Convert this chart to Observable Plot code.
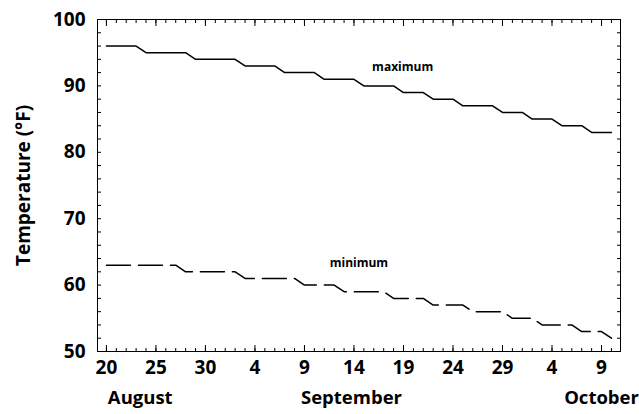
<!DOCTYPE html>
<html><head><meta charset="utf-8">
<script src="https://cdn.jsdelivr.net/npm/d3@7"></script>
<script src="https://cdn.jsdelivr.net/npm/@observablehq/plot@0.6"></script>
<style>
html,body{margin:0;padding:0;background:#fff;}
</style>
</head><body><div id="chart"></div>
<script>
// Daily dates: Aug 20 .. Oct 10
const dates = d3.utcDay.range(new Date(Date.UTC(2023, 7, 20)), new Date(Date.UTC(2023, 9, 11)));

const maxTemps = [
  96,96,96,96,
  95,95,95,95,95,
  94,94,94,94,94,
  93,93,93,93,
  92,92,92,92,
  91,91,91,91,
  90,90,90,90,
  89,89,89,
  88,88,88,
  87,87,87,87,
  86,86,86,
  85,85,85,
  84,84,84,
  83,83,83
];
const minTemps = [
  63,63,63,63,63,63,63,63,
  62,62,62,62,62,62,
  61,61,61,61,61,61,
  60,60,60,60,
  59,59,59,59,59,
  58,58,58,58,
  57,57,57,57,
  56,56,56,56,
  55,55,55,
  54,54,54,54,
  53,53,53,
  52
];

const yTicksMinor = d3.range(50, 101, 2);
const yTicksMajor = [50, 60, 70, 80, 90, 100];
const xTicksMajor = dates.filter((d, i) => i % 5 === 0);

const monthNames = ["August", "September", "October"];
const monthDates = [
  new Date(Date.UTC(2023, 7, 23, 10)),
  new Date(Date.UTC(2023, 8, 13, 18)),
  new Date(Date.UTC(2023, 9, 9, 0))
];

const seriesNames = ["maximum", "minimum"];
const seriesLabelDates = [new Date(Date.UTC(2023, 8, 18, 22)), new Date(Date.UTC(2023, 8, 14, 12))];
const seriesLabelTemps = [92.75, 63.35];

const maxData = dates.map((d, i) => ({date: d, temp: maxTemps[i]}));
const minData = dates.map((d, i) => ({date: d, temp: minTemps[i]}));
const monthData = monthNames.map((m, i) => ({name: m, date: monthDates[i]}));
const labelData = seriesNames.map((s, i) => ({name: s, date: seriesLabelDates[i], temp: seriesLabelTemps[i]}));

const xDomain = [new Date(Date.UTC(2023, 7, 19, 2, 24)), new Date(Date.UTC(2023, 9, 10, 22))];

const font = "'Open Sans', sans-serif";

const chart = Plot.plot({
  width: 639,
  height: 414,
  marginLeft: 97,
  marginRight: 19,
  marginTop: 19,
  marginBottom: 63,
  style: {fontFamily: font, background: "#fff", color: "#000", fontWeight: "bold"},
  x: {type: "utc", domain: xDomain},
  y: {domain: [50, 100]},
  marks: [
    // inward ticks on all four sides
    Plot.axisX({anchor: "bottom", ticks: dates, tickSize: -3, text: null, stroke: "#000"}),
    Plot.axisX({anchor: "bottom", ticks: xTicksMajor, tickSize: -6, text: null, stroke: "#000"}),
    Plot.axisX({anchor: "top", ticks: dates, tickSize: -3, text: null, stroke: "#000", label: null}),
    Plot.axisX({anchor: "top", ticks: xTicksMajor, tickSize: -6, text: null, stroke: "#000", label: null}),
    Plot.axisY({anchor: "left", ticks: yTicksMinor, tickSize: -4, text: null, stroke: "#000", label: null}),
    Plot.axisY({anchor: "right", ticks: yTicksMinor, tickSize: -4, text: null, stroke: "#000", label: null}),
    // tick labels
    Plot.axisX({anchor: "bottom", ticks: xTicksMajor, tickSize: 0, tickPadding: 9, tickFormat: d3.utcFormat("%-d"),
      fontSize: 19, fontWeight: "bold", label: null}),
    Plot.axisY({anchor: "left", ticks: yTicksMajor, tickSize: 0, tickPadding: 12,
      fontSize: 19, fontWeight: "bold", label: null}),
    Plot.frame({stroke: "#000", strokeWidth: 1}),
    // series
    Plot.line(maxData, {x: "date", y: "temp", stroke: "#000", strokeWidth: 1.5}),
    Plot.line(minData, {x: "date", y: "temp", stroke: "#000", strokeWidth: 1.5, strokeDasharray: "24,8"}),
    Plot.text(labelData, {x: "date", y: "temp", text: "name", fontSize: 12, fontWeight: "bold", fill: "#000"}),
    // month labels
    Plot.text(monthData, {x: "date", text: "name", frameAnchor: "bottom", dy: 52, fontSize: 18.5, fontWeight: "bold", fill: "#000"}),
    // y title
    Plot.text(["Temperature (°F)"], {frameAnchor: "left", dx: -74, rotate: -90, textAnchor: "middle", fontSize: 19, fontWeight: "bold", fill: "#000"})
  ]
});
document.getElementById("chart").appendChild(chart);
</script>
</body></html>
